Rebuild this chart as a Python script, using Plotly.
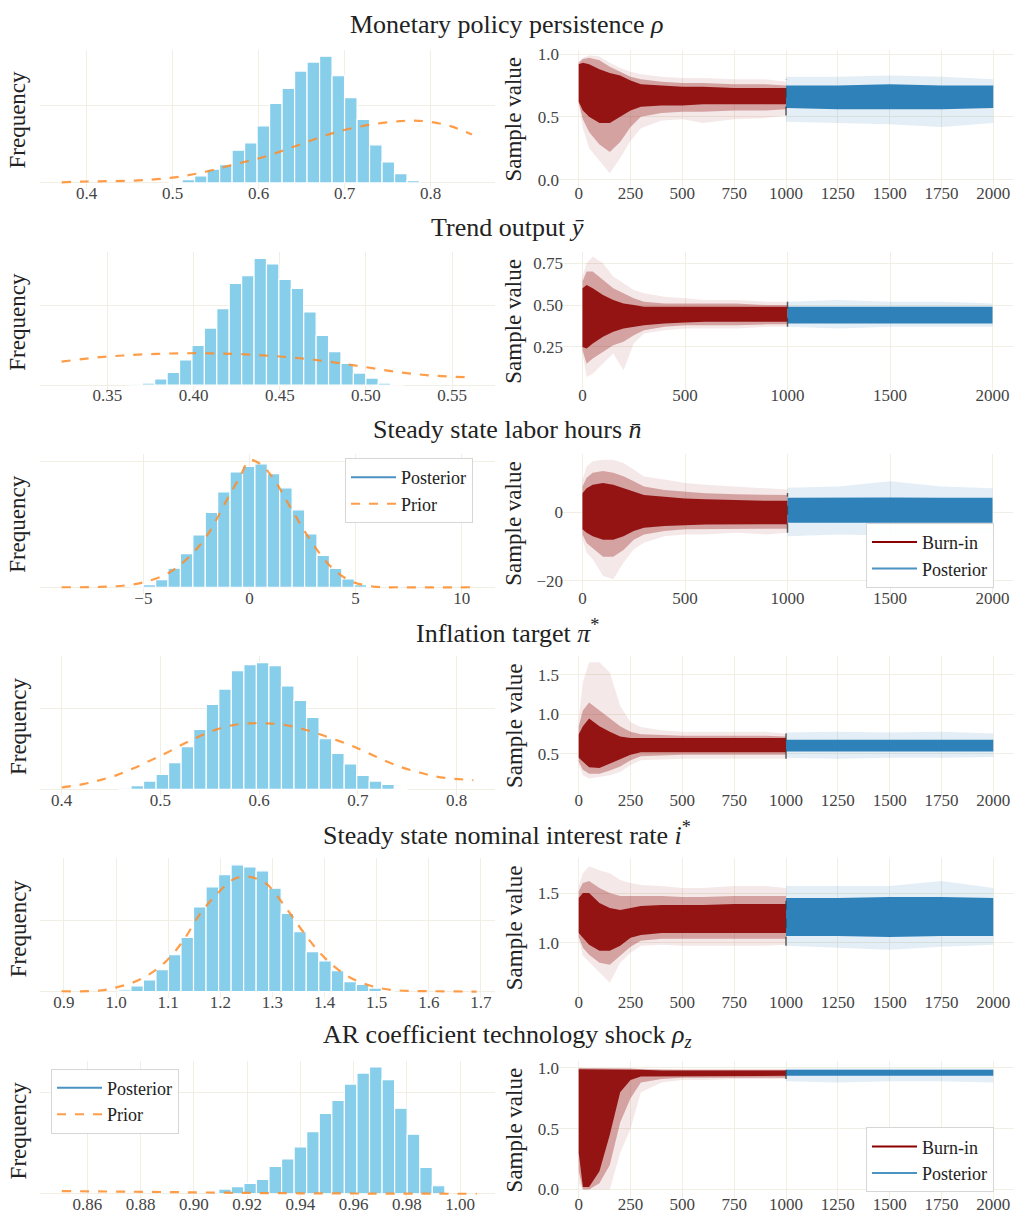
import plotly.graph_objects as go

W, H = 1014, 1223
FONT = "Liberation Serif"
GRID = "#f1eee3"
BAR_COLOR = "#87CEEB"
PRIOR_COLOR = "rgba(255,140,40,0.85)"
BURN_DENSE = "rgba(139,0,0,0.88)"
BURN_MID = "rgba(139,0,0,0.30)"
BURN_FAINT = "rgba(139,0,0,0.09)"
POST_DENSE = "rgba(31,119,180,0.92)"
POST_FAINT = "rgba(31,119,180,0.12)"

TITLES = [
    "Monetary policy persistence <i>ρ</i>",
    "Trend output <i>ȳ</i>",
    "Steady state labor hours <i>n̄</i>",
    "Inflation target <i>π</i><sup>*</sup>",
    "Steady state nominal interest rate <i>i</i><sup>*</sup>",
    "AR coefficient technology shock <i>ρ<sub>z</sub></i>",
]

# ---------------- histograms (density) ----------------
HIST_START = [0.5037, 0.3667, -5.30, 0.4638, 1.0164, 0.9070]
HIST_WIDTH = [0.01453, 0.0072, 0.585, 0.0127, 0.02403, 0.00472]
HIST_1 = [0.06, 0.21, 0.45, 0.88, 1.18, 2.10, 2.58, 3.67, 5.11, 6.07, 7.19, 7.77, 8.15,
          6.89, 5.49, 4.08, 2.45, 1.35, 0.60, 0.15]
HIST_2 = [0.04, 0.25, 0.76, 1.60, 3.15, 4.96, 7.14, 9.58, 12.73, 13.70, 15.88, 15.17,
          13.24, 12.10, 9.16, 6.22, 4.20, 2.73, 1.51, 0.88, 0.25, 0.13]
HIST_3 = [0.001, 0.0042, 0.0120, 0.0303, 0.0533, 0.0830, 0.1185, 0.1514, 0.1828, 0.1916,
          0.1958, 0.1802, 0.1577, 0.1227, 0.0846, 0.0507, 0.0298, 0.0131, 0.0042, 0.0016]
HIST_4 = [0.04, 0.23, 0.52, 0.93, 1.66, 2.66, 3.73, 5.29, 6.24, 7.39, 7.76, 7.88, 7.70,
          6.43, 5.54, 4.48, 3.15, 2.24, 1.58, 0.87, 0.52, 0.31, 0.06]
HIST_5 = [0.05, 0.16, 0.33, 0.62, 1.04, 1.53, 2.39, 2.96, 3.30, 3.58, 3.52, 3.41, 2.92,
          2.21, 1.69, 1.13, 0.87, 0.59, 0.28, 0.20, 0.10, 0.03]
HIST_6 = [0.26, 0.92, 1.39, 2.05, 2.84, 5.41, 6.86, 9.24, 12.28, 15.84, 18.42, 21.65,
          23.83, 25.02, 22.51, 16.90, 11.75, 5.21, 1.58]
HISTS = [HIST_1, HIST_2, HIST_3, HIST_4, HIST_5, HIST_6]

# ---------------- prior densities ----------------
PRIOR_X1 = [0.371, 0.400, 0.454, 0.497, 0.532, 0.571, 0.609, 0.648, 0.687, 0.726, 0.764, 0.780, 0.799, 0.823, 0.848]
PRIOR_Y1 = [0.04, 0.09, 0.15, 0.32, 0.64, 1.18, 1.72, 2.47, 3.22, 3.71, 3.97, 4.01, 3.93, 3.65, 3.11]
PRIOR_X2 = [0.3235, 0.3457, 0.3651, 0.3844, 0.4037, 0.4230, 0.4424, 0.4617, 0.4810, 0.5003, 0.5197, 0.5390, 0.5602]
PRIOR_Y2 = [2.94, 3.49, 3.78, 3.95, 3.99, 3.91, 3.70, 3.36, 2.86, 2.23, 1.60, 1.18, 0.97]
PRIOR_X3 = [-8.85, -7.04, -5.79, -5.00, -3.90, -2.96, -2.02, -1.07, -0.45, 0.00, 0.50, 1.13, 1.91, 2.85, 3.80, 4.74, 5.84, 7.09, 10.39]
PRIOR_Y3 = [0.0, 0.0005, 0.0031, 0.0078, 0.0209, 0.0444, 0.0809, 0.1384, 0.1749, 0.2010, 0.1958, 0.1723, 0.1279, 0.0757, 0.0339, 0.0104, 0.0010, 0.0, 0.0]
PRIOR_X4 = [0.4000, 0.4219, 0.4388, 0.4557, 0.4726, 0.4895, 0.5063, 0.5232, 0.5401, 0.5570, 0.5738, 0.5907, 0.6076,
            0.6245, 0.6414, 0.6582, 0.6751, 0.6920, 0.7089, 0.7257, 0.7426, 0.7595, 0.7764, 0.7932, 0.8169]
PRIOR_Y4 = [0.12, 0.33, 0.58, 0.89, 1.31, 1.79, 2.28, 2.82, 3.32, 3.73, 4.00, 4.11, 4.11,
            4.02, 3.80, 3.49, 3.13, 2.76, 2.30, 1.83, 1.41, 1.10, 0.83, 0.68, 0.58]
PRIOR_X5 = [0.8955, 0.9691, 1.0010, 1.0330, 1.0650, 1.0970, 1.1289, 1.1609, 1.1929, 1.2249, 1.2440, 1.2632,
            1.2888, 1.3208, 1.3528, 1.3847, 1.4167, 1.4487, 1.4807, 1.5126, 1.5446, 1.6086, 1.6917]
PRIOR_Y5 = [0.01, 0.03, 0.12, 0.26, 0.50, 0.87, 1.44, 2.19, 2.75, 3.17, 3.25, 3.22,
            3.04, 2.47, 1.81, 1.20, 0.73, 0.40, 0.20, 0.08, 0.03, 0.01, 0.0]
PRIOR_X6 = [0.8504, 0.8773, 0.9023, 0.9274, 0.9524, 0.9775, 1.0063]
PRIOR_Y6 = [0.53, 0.40, 0.26, 0.13, 0.07, 0.02, 0.0]
PRIORS = [(PRIOR_X1, PRIOR_Y1), (PRIOR_X2, PRIOR_Y2), (PRIOR_X3, PRIOR_Y3),
          (PRIOR_X4, PRIOR_Y4), (PRIOR_X5, PRIOR_Y5), (PRIOR_X6, PRIOR_Y6)]

HIST_GRID = [5, 10, 0.2, 5, 2, 20]
HIST_XRANGE = [[0.3457, 0.8748], [0.311, 0.5748], [-9.87, 11.57],
               [0.378, 0.8388], [0.854, 1.727], [0.8422, 1.01315]]
HIST_XTICKS = [
    ([0.4, 0.5, 0.6, 0.7, 0.8], ["0.4", "0.5", "0.6", "0.7", "0.8"]),
    ([0.35, 0.40, 0.45, 0.50, 0.55], ["0.35", "0.40", "0.45", "0.50", "0.55"]),
    ([-5, 0, 5, 10], ["−5", "0", "5", "10"]),
    ([0.4, 0.5, 0.6, 0.7, 0.8], ["0.4", "0.5", "0.6", "0.7", "0.8"]),
    ([0.9, 1.0, 1.1, 1.2, 1.3, 1.4, 1.5, 1.6, 1.7], ["0.9", "1.0", "1.1", "1.2", "1.3", "1.4", "1.5", "1.6", "1.7"]),
    ([0.86, 0.88, 0.90, 0.92, 0.94, 0.96, 0.98, 1.00], ["0.86", "0.88", "0.90", "0.92", "0.94", "0.96", "0.98", "1.00"]),
]

# ---------------- trace envelopes (read from chains) ----------------
BURN_X = [0, 20, 50, 100, 150, 200, 250, 300, 400, 500, 600, 750, 900, 1000]
POST_X = [1000, 1250, 1500, 1750, 2000]

TRACE = [
    dict(b_out_hi=[0.94, 0.97, 0.99, 0.98, 0.93, 0.89, 0.86, 0.84, 0.82, 0.81, 0.81, 0.80, 0.80, 0.78],
         b_out_lo=[0.60, 0.41, 0.25, 0.15, 0.05, 0.17, 0.31, 0.41, 0.47, 0.48, 0.45, 0.48, 0.49, 0.51],
         b_mid_hi=[0.93, 0.96, 0.97, 0.95, 0.90, 0.86, 0.82, 0.80, 0.78, 0.77, 0.77, 0.76, 0.76, 0.75],
         b_mid_lo=[0.61, 0.48, 0.38, 0.28, 0.22, 0.30, 0.42, 0.50, 0.53, 0.54, 0.54, 0.55, 0.55, 0.56],
         b_in_hi=[0.92, 0.93, 0.92, 0.88, 0.85, 0.83, 0.79, 0.76, 0.75, 0.74, 0.74, 0.73, 0.73, 0.73],
         b_in_lo=[0.62, 0.55, 0.50, 0.45, 0.45, 0.50, 0.55, 0.58, 0.59, 0.59, 0.60, 0.60, 0.60, 0.60],
         p_out_hi=[0.82, 0.82, 0.83, 0.82, 0.80], p_out_lo=[0.46, 0.45, 0.44, 0.42, 0.45],
         p_in_hi=[0.75, 0.75, 0.76, 0.75, 0.75], p_in_lo=[0.57, 0.56, 0.56, 0.56, 0.57],
         vline=[0.51, 0.80]),
    dict(b_out_hi=[0.67, 0.75, 0.79, 0.75, 0.67, 0.63, 0.59, 0.57, 0.55, 0.54, 0.53, 0.53, 0.52, 0.52],
         b_out_lo=[0.21, 0.07, 0.09, 0.15, 0.21, 0.11, 0.27, 0.33, 0.35, 0.36, 0.36, 0.36, 0.37, 0.37],
         b_mid_hi=[0.64, 0.70, 0.70, 0.65, 0.60, 0.57, 0.54, 0.52, 0.51, 0.51, 0.51, 0.51, 0.50, 0.50],
         b_mid_lo=[0.23, 0.15, 0.18, 0.22, 0.26, 0.28, 0.32, 0.35, 0.37, 0.38, 0.38, 0.38, 0.385, 0.385],
         b_in_hi=[0.60, 0.62, 0.60, 0.56, 0.53, 0.51, 0.50, 0.49, 0.49, 0.49, 0.49, 0.49, 0.49, 0.49],
         b_in_lo=[0.25, 0.24, 0.27, 0.31, 0.34, 0.36, 0.37, 0.38, 0.39, 0.395, 0.40, 0.40, 0.40, 0.40],
         p_out_hi=[0.52, 0.53, 0.52, 0.52, 0.51], p_out_lo=[0.37, 0.36, 0.37, 0.37, 0.37],
         p_in_hi=[0.49, 0.49, 0.49, 0.49, 0.49], p_in_lo=[0.39, 0.39, 0.39, 0.39, 0.39],
         vline=[0.37, 0.52]),
    dict(b_out_hi=[9.5, 13.3, 14.8, 15.3, 15.3, 14.3, 12.4, 10.4, 9.5, 8.5, 8.0, 7.5, 7.1, 6.6],
         b_out_lo=[-7.9, -11.8, -13.7, -18.6, -19.5, -14.7, -10.8, -8.9, -7.0, -6.5, -6.5, -6.0, -6.5, -6.0],
         b_mid_hi=[7.5, 10.0, 11.5, 12.0, 11.5, 10.5, 9.0, 7.5, 6.5, 6.0, 5.5, 5.2, 5.0, 5.0],
         b_mid_lo=[-6.5, -9.0, -10.5, -13.0, -13.0, -11.0, -8.0, -6.5, -5.5, -5.0, -5.0, -4.8, -4.8, -4.8],
         b_in_hi=[5.5, 7.0, 8.0, 8.5, 8.0, 7.0, 6.0, 5.0, 4.5, 4.0, 3.8, 3.5, 3.3, 3.3],
         b_in_lo=[-5.0, -6.0, -7.0, -8.0, -8.0, -7.0, -5.5, -4.5, -4.0, -3.8, -3.6, -3.5, -3.5, -3.5],
         p_out_hi=[7.1, 7.5, 9.0, 7.5, 7.0], p_out_lo=[-7.0, -6.5, -6.8, -6.5, -6.0],
         p_in_hi=[4.2, 4.3, 4.3, 4.2, 4.2], p_in_lo=[-3.1, -3.2, -3.2, -3.1, -3.1],
         vline=[-6.0, 5.6]),
    dict(b_out_hi=[0.95, 1.41, 1.66, 1.66, 1.53, 1.11, 0.90, 0.84, 0.80, 0.78, 0.78, 0.78, 0.78, 0.76],
         b_out_lo=[0.36, 0.23, 0.19, 0.21, 0.23, 0.27, 0.36, 0.42, 0.43, 0.44, 0.44, 0.44, 0.44, 0.44],
         b_mid_hi=[0.85, 1.05, 1.15, 1.05, 0.95, 0.85, 0.78, 0.75, 0.74, 0.73, 0.73, 0.73, 0.73, 0.72],
         b_mid_lo=[0.40, 0.30, 0.25, 0.25, 0.29, 0.34, 0.42, 0.47, 0.48, 0.49, 0.49, 0.49, 0.49, 0.49],
         b_in_hi=[0.75, 0.85, 0.95, 0.85, 0.78, 0.72, 0.70, 0.70, 0.70, 0.70, 0.70, 0.70, 0.70, 0.70],
         b_in_lo=[0.45, 0.40, 0.33, 0.32, 0.37, 0.43, 0.49, 0.52, 0.52, 0.52, 0.52, 0.52, 0.52, 0.52],
         p_out_hi=[0.77, 0.78, 0.77, 0.78, 0.76], p_out_lo=[0.45, 0.44, 0.45, 0.45, 0.46],
         p_in_hi=[0.68, 0.68, 0.68, 0.68, 0.68], p_in_lo=[0.53, 0.53, 0.53, 0.53, 0.53],
         vline=[0.44, 0.76]),
    dict(b_out_hi=[1.57, 1.70, 1.77, 1.73, 1.70, 1.63, 1.60, 1.58, 1.57, 1.55, 1.55, 1.57, 1.57, 1.55],
         b_out_lo=[1.03, 0.87, 0.80, 0.70, 0.60, 0.80, 0.90, 0.97, 0.98, 0.97, 0.97, 0.97, 0.97, 0.98],
         b_mid_hi=[1.52, 1.60, 1.62, 1.55, 1.50, 1.47, 1.47, 1.47, 1.47, 1.46, 1.46, 1.47, 1.47, 1.47],
         b_mid_lo=[1.06, 0.95, 0.88, 0.80, 0.78, 0.87, 0.96, 1.02, 1.04, 1.04, 1.04, 1.04, 1.04, 1.04],
         b_in_hi=[1.45, 1.50, 1.50, 1.40, 1.35, 1.33, 1.35, 1.37, 1.38, 1.38, 1.38, 1.39, 1.39, 1.39],
         b_in_lo=[1.10, 1.05, 0.98, 0.92, 0.92, 0.97, 1.05, 1.08, 1.10, 1.10, 1.10, 1.10, 1.10, 1.10],
         p_out_hi=[1.57, 1.57, 1.57, 1.62, 1.55], p_out_lo=[0.97, 0.95, 0.93, 0.96, 0.98],
         p_in_hi=[1.45, 1.45, 1.46, 1.46, 1.45], p_in_lo=[1.07, 1.07, 1.06, 1.07, 1.07],
         vline=[0.97, 1.50]),
    dict(b_out_hi=[1.0, 1.0, 1.0, 1.0, 1.0, 1.0, 1.0, 0.995, 0.99, 0.99, 0.99, 0.99, 0.99, 0.99],
         b_out_lo=[0.05, 0.0, 0.0, 0.0, 0.0, 0.30, 0.50, 0.80, 0.88, 0.90, 0.90, 0.91, 0.91, 0.91],
         b_mid_hi=[1.0, 1.0, 1.0, 1.0, 1.0, 1.0, 0.995, 0.99, 0.985, 0.985, 0.985, 0.985, 0.985, 0.985],
         b_mid_lo=[0.15, 0.0, 0.0, 0.05, 0.20, 0.55, 0.75, 0.88, 0.91, 0.92, 0.92, 0.92, 0.92, 0.92],
         b_in_hi=[0.99, 0.99, 0.99, 0.99, 0.99, 0.99, 0.99, 0.985, 0.98, 0.98, 0.98, 0.98, 0.98, 0.98],
         b_in_lo=[0.30, 0.02, 0.02, 0.15, 0.45, 0.80, 0.90, 0.93, 0.935, 0.935, 0.935, 0.935, 0.935, 0.935],
         p_out_hi=[0.995, 0.995, 0.995, 0.995, 0.995], p_out_lo=[0.89, 0.88, 0.89, 0.89, 0.88],
         p_in_hi=[0.985, 0.985, 0.985, 0.985, 0.985], p_in_lo=[0.935, 0.935, 0.935, 0.935, 0.935],
         vline=[0.91, 1.0]),
]

TRACE_YRANGE = [[-0.077, 1.034], [-0.016, 0.817], [-23.7, 16.9],
                [-0.03, 1.736], [0.447, 1.847], [-0.088, 1.06]]
TRACE_YTICKS = [
    ([0.0, 0.5, 1.0], ["0.0", "0.5", "1.0"]),
    ([0.25, 0.50, 0.75], ["0.25", "0.50", "0.75"]),
    ([-20, 0], ["−20", "0"]),
    ([0.5, 1.0, 1.5], ["0.5", "1.0", "1.5"]),
    ([1.0, 1.5], ["1.0", "1.5"]),
    ([0.0, 0.5, 1.0], ["0.0", "0.5", "1.0"]),
]
XT_250 = [0, 250, 500, 750, 1000, 1250, 1500, 1750, 2000]
XT_500 = [0, 500, 1000, 1500, 2000]
TRACE_XTICKS = [XT_250, XT_500, XT_500, XT_250, XT_250, XT_250]

# ---------------- layout geometry (pixels) ----------------
ROW_TOP0, ROW_H, ROW_STEP = 45, 140, 203
LEFT_DOM = [40, 495]
RIGHT_DOM = [[558, 1014], [562, 1013], [562, 1013], [558, 1014], [558, 1014], [558, 1014]]

fig = go.Figure()
layout = dict(
    width=W, height=H, margin=dict(l=0, r=0, t=0, b=0),
    paper_bgcolor="white", plot_bgcolor="white",
    font=dict(family=FONT, color="#333333", size=17),
    showlegend=True,
    annotations=[],
)


def ydom(r):
    top = ROW_TOP0 + ROW_STEP * r
    bot = top + ROW_H
    return [1 - bot / H, 1 - top / H]


tickfont = dict(family=FONT, size=17, color="#444444")
XSTANDOFF = -8

for r in range(6):
    li, ri = 2 * r + 1, 2 * r + 2
    lx, ly = f"x{li}", f"y{li}"
    rx, ry = f"x{ri}", f"y{ri}"

    # histogram
    heights = HISTS[r]
    centers = [HIST_START[r] + i * HIST_WIDTH[r] for i in range(len(heights))]
    fig.add_trace(go.Bar(x=centers, y=heights, width=HIST_WIDTH[r],
                         marker=dict(color=BAR_COLOR, line=dict(color="white", width=1.2)),
                         xaxis=lx, yaxis=ly, showlegend=False))
    px_, py_ = PRIORS[r]
    fig.add_trace(go.Scatter(x=px_, y=py_, mode="lines", line=dict(color=PRIOR_COLOR, width=2.2, dash="dash", shape="spline"),
                             xaxis=lx, yaxis=ly, showlegend=False))
    ymax = max(max(heights), max(py_))

    layout[f"xaxis{li}"] = dict(domain=[LEFT_DOM[0] / W, LEFT_DOM[1] / W], anchor=ly,
                                range=HIST_XRANGE[r], tickvals=HIST_XTICKS[r][0], ticktext=HIST_XTICKS[r][1],
                                showgrid=True, gridcolor=GRID, gridwidth=1, zeroline=False, showline=False,
                                ticks="", ticklabelstandoff=XSTANDOFF, tickfont=tickfont)
    layout[f"yaxis{li}"] = dict(domain=ydom(r), anchor=lx, range=[-0.05 * ymax, 1.05 * ymax],
                                tickvals=[0, HIST_GRID[r]], showticklabels=False,
                                showgrid=True, gridcolor=GRID, gridwidth=1, zeroline=False, showline=False)

    # trace envelopes
    T = TRACE[r]
    for xs, hi, lo, col in [
        (BURN_X, T["b_out_hi"], T["b_out_lo"], BURN_FAINT),
        (BURN_X, T["b_mid_hi"], T["b_mid_lo"], BURN_MID),
        (BURN_X, T["b_in_hi"], T["b_in_lo"], BURN_DENSE),
        (POST_X, T["p_out_hi"], T["p_out_lo"], POST_FAINT),
        (POST_X, T["p_in_hi"], T["p_in_lo"], POST_DENSE),
    ]:
        fig.add_trace(go.Scatter(x=list(xs) + list(xs)[::-1], y=list(hi) + list(lo)[::-1],
                                 mode="lines", fill="toself", fillcolor=col, line=dict(width=0, color=col),
                                 xaxis=rx, yaxis=ry, showlegend=False, hoverinfo="skip"))
    fig.add_trace(go.Scatter(x=[1000, 1000], y=T["vline"], mode="lines",
                             line=dict(color="rgba(60,60,60,0.8)", width=1.5, dash="dash"),
                             xaxis=rx, yaxis=ry, showlegend=False))

    layout[f"xaxis{ri}"] = dict(domain=[RIGHT_DOM[r][0] / W, RIGHT_DOM[r][1] / W], anchor=ry,
                                range=[-100, 2100], tickvals=TRACE_XTICKS[r],
                                showgrid=True, gridcolor=GRID, gridwidth=1, zeroline=False, showline=False,
                                ticks="", ticklabelstandoff=XSTANDOFF, tickfont=tickfont)
    layout[f"yaxis{ri}"] = dict(domain=ydom(r), anchor=rx, range=TRACE_YRANGE[r],
                                tickvals=TRACE_YTICKS[r][0], ticktext=TRACE_YTICKS[r][1],
                                showgrid=True, gridcolor=GRID, gridwidth=1, zeroline=False, showline=False,
                                ticks="", ticklabelstandoff=-2, tickfont=tickfont)

    # titles and axis labels
    d = ydom(r)
    ymid = (d[0] + d[1]) / 2
    layout["annotations"].append(dict(text=TITLES[r], x=0.5, y=1 - (20 + ROW_STEP * r) / H, xref="paper", yref="paper",
                                      xanchor="center", yanchor="middle", showarrow=False,
                                      font=dict(family=FONT, size=26, color="#222222")))
    layout["annotations"].append(dict(text="Frequency", x=18 / W, y=ymid, xref="paper", yref="paper",
                                      xanchor="center", yanchor="middle", textangle=-90, showarrow=False,
                                      font=dict(family=FONT, size=23, color="#222222")))
    layout["annotations"].append(dict(text="Sample value", x=514 / W, y=ymid, xref="paper", yref="paper",
                                      xanchor="center", yanchor="middle", textangle=-90, showarrow=False,
                                      font=dict(family=FONT, size=23, color="#222222")))

# legend entries
LEG_STYLE = dict(bgcolor="rgba(255,255,255,0.9)", bordercolor="#d6d6d6", borderwidth=1,
                 font=dict(family=FONT, size=18, color="#222222"), itemwidth=45, tracegroupgap=0)
legend_specs = [
    ("legend", "x5", "y5", [("Posterior", "rgba(31,119,180,0.8)", "solid"), ("Prior", PRIOR_COLOR, "dash")],
     345 / W, 1 - 455 / H),
    ("legend2", "x11", "y11", [("Posterior", "rgba(31,119,180,0.8)", "solid"), ("Prior", PRIOR_COLOR, "dash")],
     51 / W, 1 - 1068 / H),
    ("legend3", "x6", "y6", [("Burn-in", "#8b0000", "solid"), ("Posterior", "rgba(31,119,180,0.8)", "solid")],
     866 / W, 1 - 520 / H),
    ("legend4", "x12", "y12", [("Burn-in", "#8b0000", "solid"), ("Posterior", "rgba(31,119,180,0.8)", "solid")],
     866 / W, 1 - 1127 / H),
]
for lg, xa, ya, items, lx_, ly_ in legend_specs:
    for name, col, dash in items:
        fig.add_trace(go.Scatter(x=[None], y=[None], mode="lines", name=name,
                                 line=dict(color=col, width=2, dash=dash),
                                 xaxis=xa, yaxis=ya, legend=lg, showlegend=True))
    layout[lg] = dict(x=lx_, y=ly_, xanchor="left", yanchor="top", **LEG_STYLE)

fig.update_layout(**layout)
fig.write_html("out.html")
